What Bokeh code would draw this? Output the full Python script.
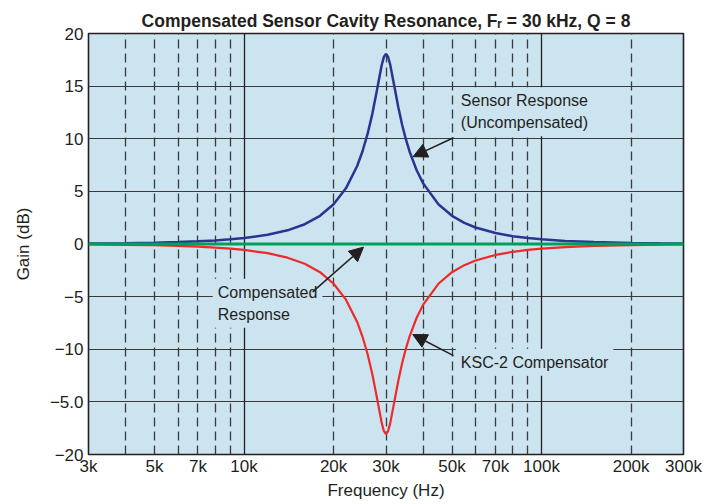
from bokeh.plotting import figure
from bokeh.models import (FixedTicker, Grid, Label, Arrow, NormalHead, Range1d)
from bokeh.embed import file_html
from bokeh.resources import INLINE

# ---- data ----
freq_hz = [3000, 4000, 5000, 6000, 7000, 8000, 9000, 10000,
           12000, 14000, 16000, 18000, 20000, 22000, 24000, 25000, 26000, 27000,
           28000, 29000, 29500, 30000, 30500, 31000,
           32000, 33000, 34000, 35000, 36000, 38000, 40000, 45000, 50000, 55000,
           60000, 70000, 80000, 90000, 100000,
           120000, 150000, 200000, 250000, 300000]
sensor_db = [0.04, 0.08, 0.12, 0.18, 0.25, 0.34, 0.44, 0.56,
             0.87, 1.30, 1.88, 2.68, 3.78, 5.29, 7.41, 8.79, 10.43, 12.39,
             14.68, 16.96, 17.76, 18.06, 17.77, 17.02,
             14.98, 12.99, 11.31, 9.93, 8.79, 7.03, 5.76, 3.78, 2.68, 2.01,
             1.57, 1.04, 0.74, 0.56, 0.44,
             0.29, 0.18, 0.10, 0.06, 0.04]
compensator_db = [-0.04, -0.08, -0.12, -0.18, -0.25, -0.34, -0.44, -0.56,
                  -0.87, -1.30, -1.88, -2.68, -3.78, -5.29, -7.41, -8.79, -10.43, -12.39,
                  -14.68, -16.96, -17.76, -18.06, -17.77, -17.02,
                  -14.98, -12.99, -11.31, -9.93, -8.79, -7.03, -5.76, -3.78, -2.68, -2.01,
                  -1.57, -1.04, -0.74, -0.56, -0.44,
                  -0.29, -0.18, -0.10, -0.06, -0.04]
compensated_freq = [3000, 300000]
compensated_db = [0, 0]

x_tick_values = [3000, 5000, 7000, 10000, 20000, 30000, 50000, 70000, 100000, 200000, 300000]
x_tick_labels = ["3k", "5k", "7k", "10k", "20k", "30k", "50k", "70k", "100k", "200k", "300k"]
x_grid_solid = [10000, 100000]
x_grid_dashed = [4000, 5000, 6000, 7000, 8000, 9000,
                 20000, 30000, 40000, 50000, 60000, 70000, 80000, 90000, 200000]
y_tick_values = [20, 15, 10, 5, 0, -5, -10, -15, -20]
y_tick_labels = ["20", "15", "10", "5", "0", "\u22125", "\u221210", "\u22125.0", "\u221220"]

BG = "#cce3f0"
FONT = "Liberation Sans"
INK = "#231f20"

p = figure(width=714, height=502, x_axis_type="log",
           x_range=Range1d(3000, 300000), y_range=Range1d(-20, 20),
           output_backend="svg", toolbar_location=None,
           min_border_left=88, min_border_right=31, min_border_top=33, min_border_bottom=47,
           background_fill_color=BG, border_fill_color="white",
           title="Compensated Sensor Cavity Resonance, F\u1d63 = 30 kHz, Q = 8")

p.title.text_font = FONT
p.title.text_font_size = "17.5px"
p.title.text_font_style = "bold"
p.title.align = "center"
p.title.text_color = INK
p.title.standoff = 5

p.outline_line_color = INK
p.outline_line_width = 1.6

# axes
for ax in (p.xaxis[0], p.yaxis[0]):
    ax.axis_line_color = None
    ax.major_tick_line_color = None
    ax.minor_tick_line_color = None
    ax.major_tick_out = 0
    ax.major_tick_in = 0
    ax.major_label_text_font = FONT
    ax.major_label_text_font_size = "17px"
    ax.major_label_text_color = INK
    ax.axis_label_text_font = FONT
    ax.axis_label_text_font_size = "17px"
    ax.axis_label_text_font_style = "normal"
    ax.axis_label_text_color = INK

p.xaxis.ticker = FixedTicker(ticks=x_tick_values)
p.xaxis.major_label_overrides = dict(zip(x_tick_values, x_tick_labels))
p.xaxis.axis_label = "Frequency (Hz)"
p.xaxis.major_label_standoff = 2
p.xaxis.axis_label_standoff = 2

p.yaxis.ticker = FixedTicker(ticks=y_tick_values)
p.yaxis.major_label_overrides = dict(zip(y_tick_values, y_tick_labels))
p.yaxis.axis_label = "Gain (dB)"
p.yaxis.major_label_standoff = 5
p.yaxis.axis_label_standoff = 14

# grids
p.xgrid.grid_line_color = None
p.ygrid.ticker = FixedTicker(ticks=y_tick_values)
p.ygrid.grid_line_color = "#3a3a3a"
p.ygrid.grid_line_width = 1.2

g_dash = Grid(dimension=0, ticker=FixedTicker(ticks=x_grid_dashed),
              grid_line_color="#3a3a3a", grid_line_width=1.3, grid_line_dash="9 5")
g_solid = Grid(dimension=0, ticker=FixedTicker(ticks=x_grid_solid),
               grid_line_color=INK, grid_line_width=1.3)
p.add_layout(g_dash)
p.add_layout(g_solid)

# curves
p.line(freq_hz, sensor_db, line_color="#2b3590", line_width=2.5)
p.line(freq_hz, compensator_db, line_color="#ee2a2a", line_width=2.2)
p.line(compensated_freq, compensated_db, line_color="#00a05a", line_width=3)

# annotations
def add_label(x, y, text):
    lab = Label(x=x, y=y, text=text, text_font=FONT, text_font_size="16px",
                text_color=INK, text_baseline="top", text_align="left",
                background_fill_color=BG, padding=5, text_line_height=1.3)
    p.add_layout(lab)

add_label(51500, 14.9, "Sensor Response\n(Uncompensated)")
add_label(7850, -3.3, "Compensated\nResponse")
add_label(51500, -9.95, "KSC-2 Compensator")

def add_arrow(xs, ys, xe, ye):
    p.add_layout(Arrow(x_start=xs, y_start=ys, x_end=xe, y_end=ye,
                       line_color=INK, line_width=1.5,
                       end=NormalHead(size=14, fill_color=INK, line_color=INK)))

add_arrow(50600, 10.1, 37000, 8.3)
add_arrow(17000, -4.55, 25200, -0.3)
add_arrow(50600, -10.6, 36900, -8.6)

open("out.html", "w").write(file_html(p, INLINE))
